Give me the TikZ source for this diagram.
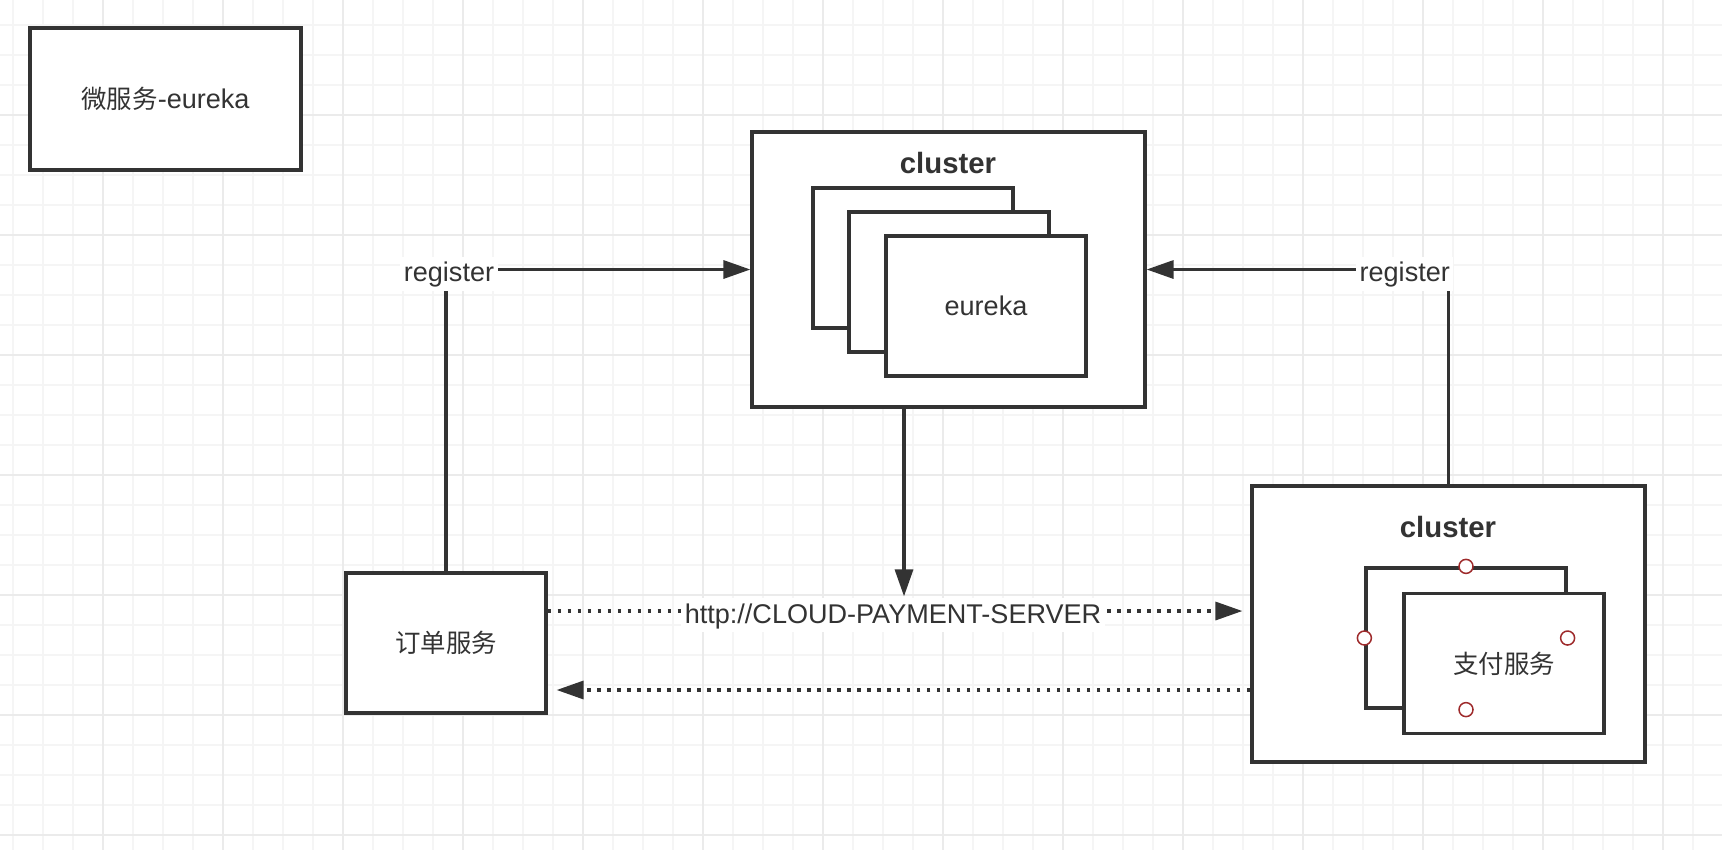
\documentclass[tikz,border=0pt]{standalone}
\usepackage{fontspec}
\setmainfont{Liberation Sans}
\newfontfamily\cjk[Scale=0.94]{Noto Sans CJK SC}
\usetikzlibrary{arrows.meta}
\definecolor{ink}{HTML}{333333}
\definecolor{gridmin}{HTML}{F5F5F5}
\definecolor{gridmaj}{HTML}{EBEBEB}
\definecolor{handlered}{HTML}{9E2A2B}

\begin{document}
\begin{tikzpicture}[x=0.02cm,y=-0.02cm]
		\tikzstyle{every node}=[font=\fontsize{15.4}{18}\selectfont,text=ink]
		\tikzstyle{box}=[draw=ink,fill=white,line width=0.065cm,rectangle,minimum width=4cm,minimum height=2.8cm,inner sep=0pt]
		\tikzstyle{cluster}=[box,minimum width=7.86cm,minimum height=5.5cm]
		\tikzstyle{title}=[font=\fontsize{16.7}{20}\selectfont\bfseries]
		\tikzstyle{lbl}=[fill=white,anchor=base,yshift=-0.24cm,inner xsep=2pt,inner ysep=0pt,text height=0.5cm,text depth=0.18cm]
		\tikzstyle{arr}=[draw=ink,line width=0.065cm,-{Stealth[inset=0pt,length=0.54cm,width=0.36cm]}]
		\tikzstyle{dotarr}=[arr,dash pattern=on 0.065cm off 0.135cm]
		\tikzstyle{handle}=[draw=handlered,fill=white,line width=0.03cm]
		% paper with grid
		\fill[white] (0,0) rectangle (1722,850);
		\useasboundingbox (0,0) rectangle (1722,850);
		\foreach \i in {0,...,56} \draw[gridmin,line width=0.035cm] ({12.7+30*\i},0) -- ({12.7+30*\i},850);
		\foreach \i in {0,...,27} \draw[gridmin,line width=0.035cm] (0,{25+30*\i}) -- (1722,{25+30*\i});
		\foreach \i in {0,...,13} \draw[gridmaj,line width=0.04cm] ({102.7+120*\i},0) -- ({102.7+120*\i},850);
		\foreach \i in {0,...,6} \draw[gridmaj,line width=0.04cm] (0,{115+120*\i}) -- (1722,{115+120*\i});
		% boxes
		\node[box,minimum width=5.42cm,minimum height=2.84cm] (eu) at (165.5,99) {{\cjk 微服务}-eureka};
		\node[cluster] (ekc) at (948.5,269.5) {};
		\node[title] (ekct) at (948,163) {cluster};
		\node[box] (ek1) at (913,258) {};
		\node[box] (ek2) at (949,282) {};
		\node[box] (ek3) at (986,306) {eureka};
		\node[cluster,minimum height=5.52cm] (pay) at (1448.5,624) {};
		\node[title] (payt) at (1448,527) {cluster};
		\node[box] (pay1) at (1466,638) {};
		\node[box] (pay2) at (1504,663.5) {{\cjk 支付服务}};
		\node[box] (ord) at (446,643) {{\cjk 订单服务}};
		% connectors
		\draw[arr] (ord.north) |- (ekc.west) node[lbl,pos=0.5,xshift=0.06cm] {register};
		\draw[arr] (pay.north) |- (ekc.east) node[lbl,pos=0.5,anchor=base east,xshift=0.13cm] {register};
		\draw[dotarr,shorten >=0.16cm] ([yshift=0.64cm]ord.east) -- ([yshift=0.64cm]ord.east -| pay.west) node[lbl,pos=0.5,xshift=-0.12cm] (url) {http://CLOUD-PAYMENT-SERVER};
		\draw[arr] ([xshift=-0.89cm]ekc.south) -- ([xshift=-0.89cm]ekc.south |- url.north);
		\draw[dotarr,shorten >=0.18cm] ([yshift=-1.32cm]pay.west) -- ([yshift=-1.32cm]pay.west -| ord.east);
		\foreach \a in {north,west,east,south} \draw[handle] (pay1.\a) circle[radius=0.14cm];
\end{tikzpicture}
\end{document}
